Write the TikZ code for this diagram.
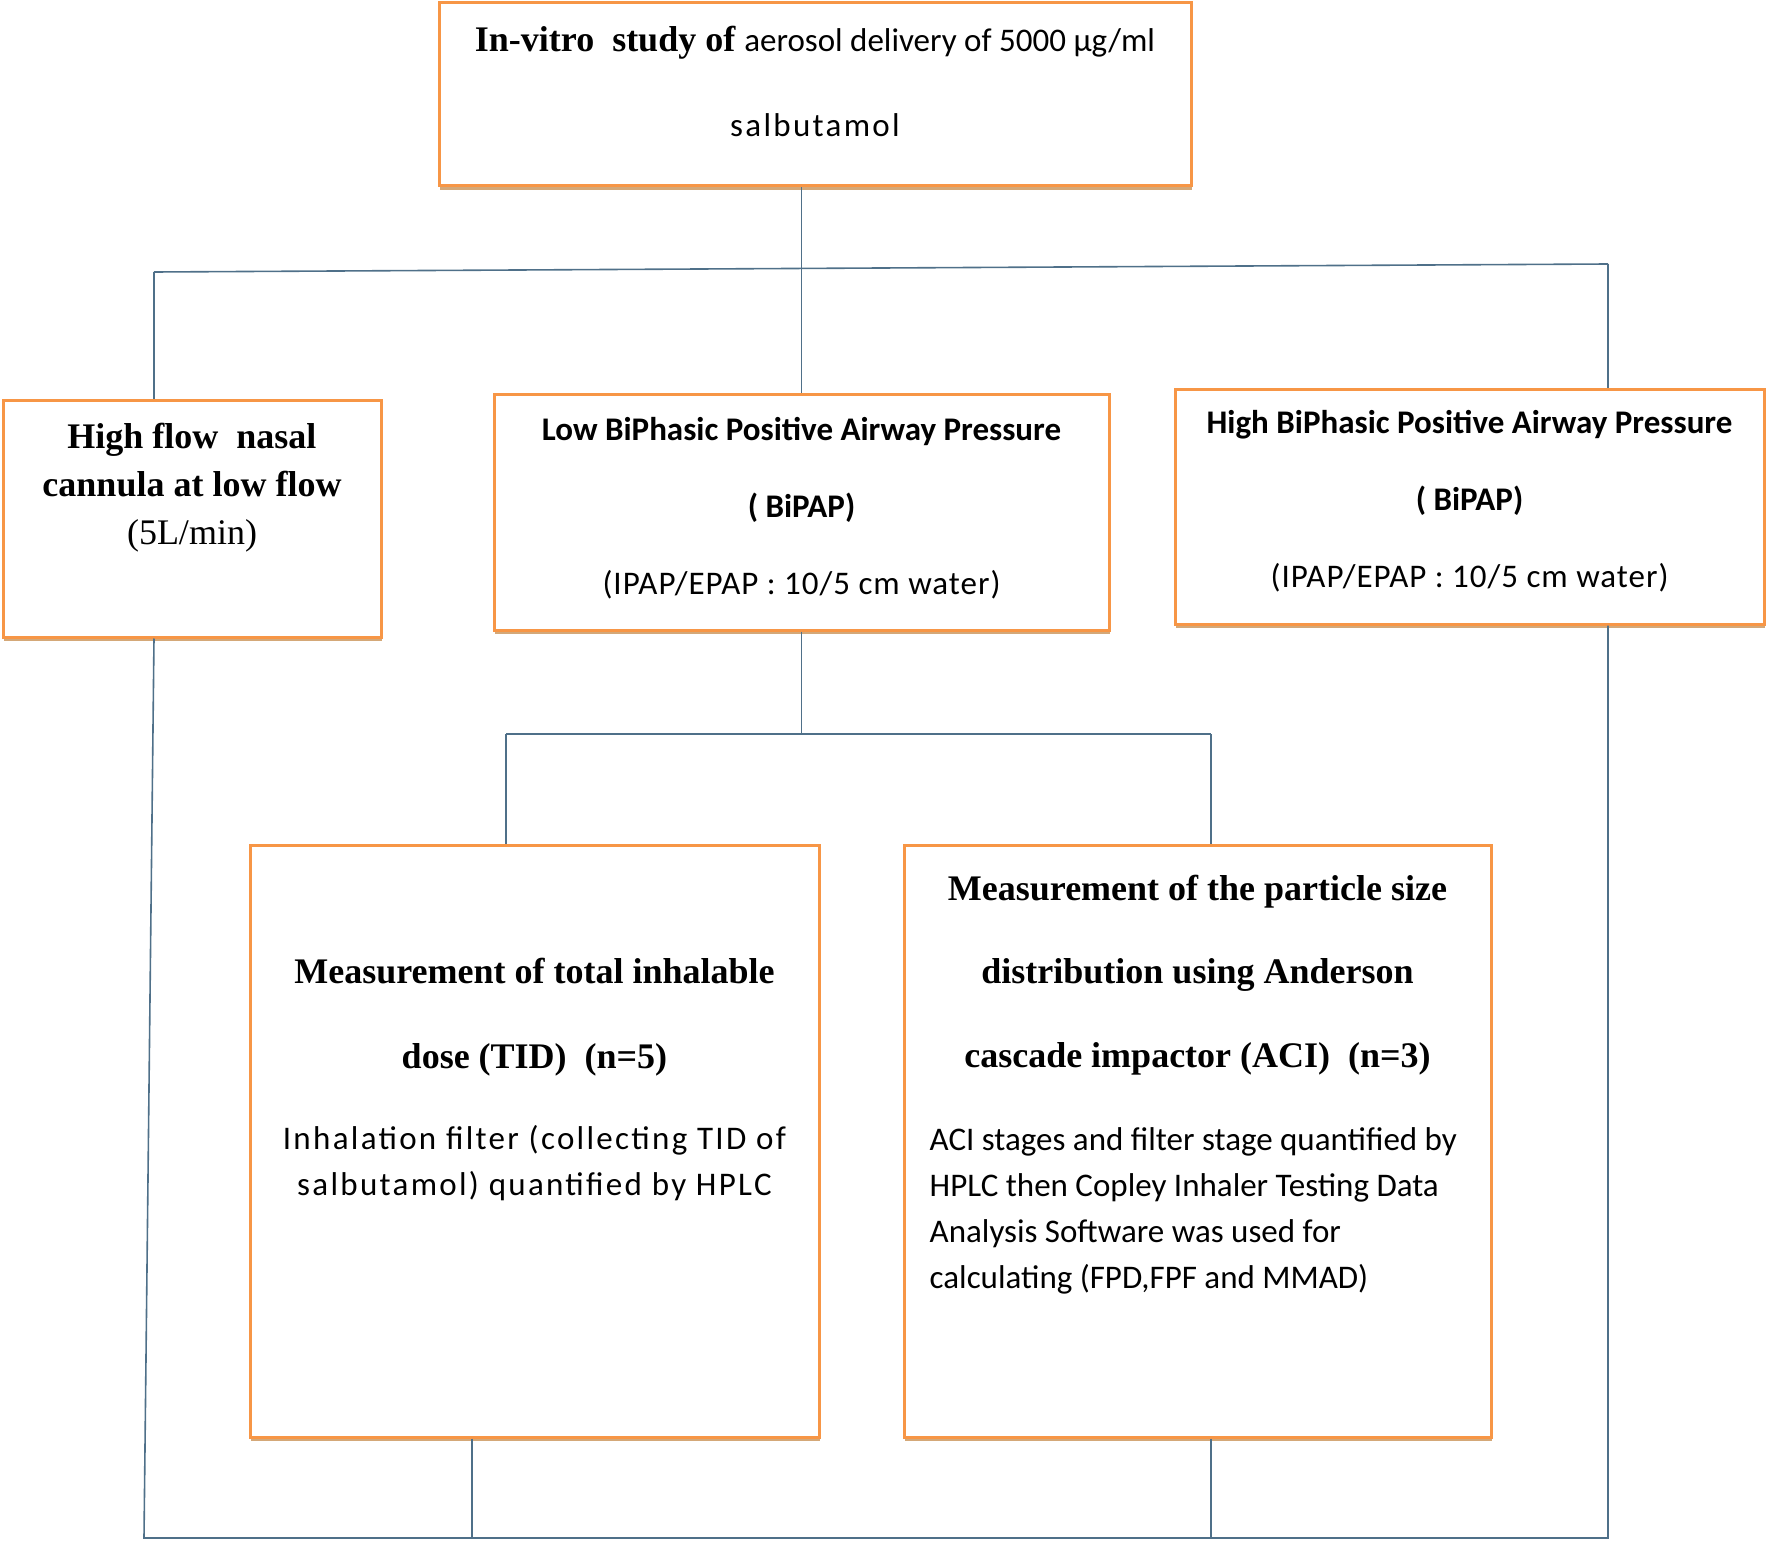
\documentclass[tikz,border=0pt]{standalone}
\usepackage{fontspec}
\setmainfont{Liberation Serif}
\newfontfamily\calfont{Carlito}
\newfontfamily\calwide[LetterSpace=7]{Carlito}
\newfontfamily\calmid[LetterSpace=3]{Carlito}
\usetikzlibrary{positioning,shadows}
\definecolor{boxc}{HTML}{F79646}
\definecolor{shadc}{HTML}{D4A878}
\definecolor{linec}{HTML}{4F7089}
\tikzset{
  box/.style ={draw=boxc,line width=3pt,fill=white,
               drop shadow={shadow xshift=1pt,shadow yshift=-4pt,fill=shadc,opacity=1}},
  link/.style={draw=linec,line width=1.6pt},
  txt/.style ={inner sep=0pt,align=center,anchor=north},
  hd/.style  ={txt,font=\fontsize{36}{85}\selectfont\bfseries},
  bd/.style  ={txt,font=\calfont\fontsize{33}{46}\selectfont},
}

\begin{document}
\begin{tikzpicture}[x=1pt,y=1pt]
\useasboundingbox (0,0) rectangle (1767,-1541);

% ---- boxes ---------------------------------------------------------------
\node[box,minimum width=752pt,minimum height=183pt] (top) at (815,-94.5) {};
\node[box,minimum width=378pt,minimum height=237pt] (hf)  at (192,-518.5) {};
\node[box,minimum width=615pt,minimum height=236pt] (lo)  at (801.5,-512) {};
\node[box,minimum width=589pt,minimum height=235pt] (hi)  at (1469.5,-506.5) {};
\node[box,minimum width=569pt,minimum height=592pt] (tid) at (534.5,-1141) {};
\node[box,minimum width=587pt,minimum height=592pt] (aci) at (1197.5,-1141) {};

% ---- texts ---------------------------------------------------------------
\node[txt,font=\fontsize{36}{85}\selectfont,below=24pt of top.north] (topt)
  {{\bfseries In-vitro~ study of} {\calfont\fontsize{33}{85}\selectfont aerosol delivery of 5000 µg/ml}\\
   {\calwide\fontsize{33}{85}\selectfont salbutamol}};
\node[txt,font=\fontsize{36}{48}\selectfont\bfseries,below=24pt of hf.north] (hft)
  {High flow~ nasal\\cannula at low flow\\{\mdseries (5L/min)}};
\node[txt,font=\calfont\fontsize{33}{77}\selectfont\bfseries,below=25pt of lo.north] (lot)
  {Low BiPhasic Positive Airway Pressure\\( BiPAP)\\{\calmid\mdseries (IPAP/EPAP : 10/5 cm water)}};
\node[txt,font=\calfont\fontsize{33}{77}\selectfont\bfseries,below=23pt of hi.north] (hit)
  {High BiPhasic Positive Airway Pressure\\( BiPAP)\\{\calmid\mdseries (IPAP/EPAP : 10/5 cm water)}};
\node[hd,below=114pt of tid.north] (tidh) {Measurement of total inhalable\\dose (TID)~ (n=5)};
\node[bd,font=\calwide\fontsize{33}{46}\selectfont,below=282pt of tid.north] (tidb)
  {Inhalation filter (collecting TID of\\salbutamol) quantified by HPLC};
\node[hd,font=\fontsize{36}{83.5}\selectfont\bfseries,below=31pt of aci.north] (acih)
  {Measurement of the particle size\\distribution using Anderson\\cascade impactor (ACI)~ (n=3)};
\node[bd,align=left,below right=284pt and 27pt of aci.north west] (acib)
  {ACI stages and filter stage quantified by\\HPLC then Copley Inhaler Testing Data\\Analysis Software was used for\\calculating (FPD,FPF and MMAD)};

% ---- connectors ----------------------------------------------------------
\coordinate (busL) at (154,-272);
\coordinate (busR) at (1608,-264);
\coordinate (splL) at (506,-734);
\coordinate (splR) at (1211,-734);
\coordinate (baseL) at (144,-1538);
\coordinate (baseT) at (472,-1538);
\coordinate (baseR) at (1608,-1538);

\draw[link] (top.south -| lo.north) -- (lo.north);
\draw[link] (busL) -- (busR);
\draw[link] (busL) -- (busL |- hf.north);
\draw[link] (busR) -- (busR |- hi.north);

\draw[link] (lo.south) -- (lo.south |- splL);
\draw[link] (splL) -- (splR);
\draw[link] (splL) -- (splL |- tid.north);
\draw[link] (splR) -- (splR |- aci.north);

\draw[link] (hf.south -| busL) -- (baseL) -- (baseR) -- (busR |- hi.south);
\draw[link] (tid.south -| baseT) -- (baseT);
\draw[link] (aci.south -| splR) -- (splR |- baseR);
\end{tikzpicture}
\end{document}
